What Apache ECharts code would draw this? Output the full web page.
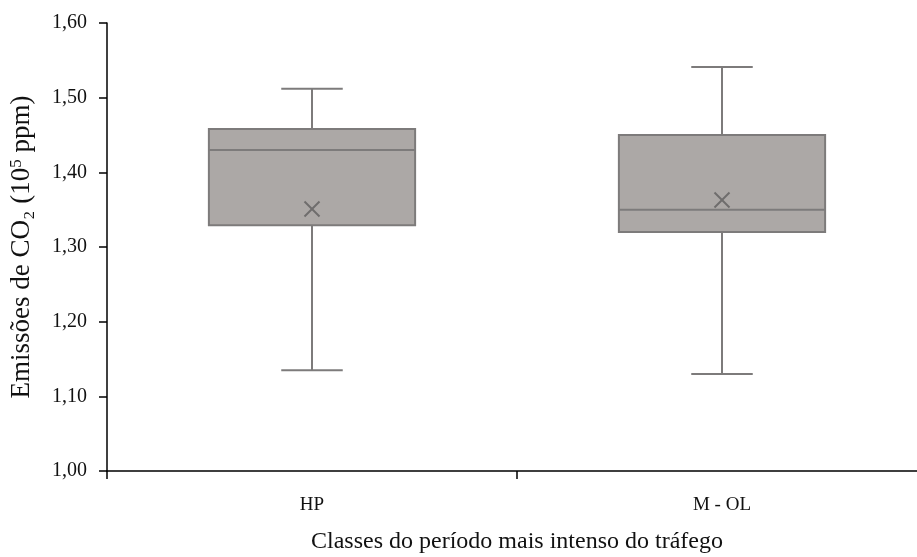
<!DOCTYPE html>
<html>
<head>
<meta charset="utf-8">
<script src="https://cdn.jsdelivr.net/npm/echarts@6/dist/echarts.min.js"></script>
<style>html,body{margin:0;padding:0;background:#fff}#c{width:917px;height:557px}</style>
</head>
<body>
<div id="c"></div>
<script>
const categories = ['HP', 'M - OL'];
const minValues = [1.135, 1.130];
const q1Values = [1.329, 1.320];
const medianValues = [1.430, 1.350];
const q3Values = [1.458, 1.450];
const maxValues = [1.512, 1.541];
const meanValues = [1.351, 1.363];
const yTicks = [1.0, 1.1, 1.2, 1.3, 1.4, 1.5, 1.6];

const FONT = '"Liberation Serif", "Times New Roman", serif';
const data = categories.map((c, i) => [i, minValues[i], q1Values[i], medianValues[i], q3Values[i], maxValues[i], meanValues[i]]);

const chart = echarts.init(document.getElementById('c'));
chart.setOption({
  animation: false,
  grid: { left: 107, top: 23, width: 820, bottom: 86, containLabel: false, outerBoundsMode: 'none' },
  xAxis: {
    type: 'category',
    data: categories,
    boundaryGap: true,
    name: 'Classes do período mais intenso do tráfego',
    nameLocation: 'middle',
    nameGap: 59,
    nameTextStyle: { fontFamily: FONT, fontSize: 24, color: '#111' },
    axisLine: { lineStyle: { color: '#000', width: 1.5 } },
    axisTick: { show: true, length: 8, lineStyle: { color: '#000', width: 1.5 } },
    axisLabel: { fontFamily: FONT, fontSize: 19, color: '#111', margin: 25 },
    splitLine: { show: false }
  },
  yAxis: {
    type: 'value',
    min: yTicks[0],
    max: yTicks[yTicks.length - 1],
    interval: 0.1,
    name: 'Emissões de CO₂ (10{sup|5} ppm)',
    nameLocation: 'middle',
    nameRotate: 90,
    nameGap: 72,
    nameTextStyle: {
      fontFamily: FONT, fontSize: 27, color: '#111',
      rich: { sup: { fontFamily: FONT, fontSize: 17, color: '#111', verticalAlign: 'top', padding: [0, 0, 10, 0] } }
    },
    axisLine: { show: true, lineStyle: { color: '#000', width: 1.5 } },
    axisTick: { show: true, length: 8, inside: false, lineStyle: { color: '#000', width: 1.5 } },
    axisLabel: {
      fontFamily: FONT, fontSize: 20, color: '#111', margin: 20,
      formatter: v => v.toFixed(2).replace('.', ',')
    },
    splitLine: { show: false }
  },
  series: [{
    type: 'custom',
    data: data,
    encode: { x: 0, y: [1, 2, 3, 4, 5, 6] },
    renderItem: function (params, api) {
      const idx = api.value(0);
      const band = api.size([1, 0])[0];
      const boxW = band * 0.503;
      const capW = band * 0.15;
      const pMin = api.coord([idx, api.value(1)]);
      const pQ1 = api.coord([idx, api.value(2)]);
      const pMed = api.coord([idx, api.value(3)]);
      const pQ3 = api.coord([idx, api.value(4)]);
      const pMax = api.coord([idx, api.value(5)]);
      const pMean = api.coord([idx, api.value(6)]);
      const cx = pMin[0];
      const lineStyle = { stroke: '#7d7b7b', lineWidth: 2 };
      const m = 7.5;
      return {
        type: 'group',
        children: [
          { type: 'line', shape: { x1: cx, y1: pMax[1], x2: cx, y2: pQ3[1] }, style: lineStyle },
          { type: 'line', shape: { x1: cx, y1: pQ1[1], x2: cx, y2: pMin[1] }, style: lineStyle },
          { type: 'line', shape: { x1: cx - capW / 2, y1: pMax[1], x2: cx + capW / 2, y2: pMax[1] }, style: lineStyle },
          { type: 'line', shape: { x1: cx - capW / 2, y1: pMin[1], x2: cx + capW / 2, y2: pMin[1] }, style: lineStyle },
          { type: 'rect', shape: { x: cx - boxW / 2, y: pQ3[1], width: boxW, height: pQ1[1] - pQ3[1] },
            style: { fill: '#aca8a6', stroke: '#7d7b7b', lineWidth: 2 } },
          { type: 'line', shape: { x1: cx - boxW / 2, y1: pMed[1], x2: cx + boxW / 2, y2: pMed[1] }, style: lineStyle },
          { type: 'line', shape: { x1: pMean[0] - m, y1: pMean[1] - m, x2: pMean[0] + m, y2: pMean[1] + m }, style: { stroke: '#6f6d6d', lineWidth: 2 } },
          { type: 'line', shape: { x1: pMean[0] - m, y1: pMean[1] + m, x2: pMean[0] + m, y2: pMean[1] - m }, style: { stroke: '#6f6d6d', lineWidth: 2 } }
        ]
      };
    }
  }]
});
</script>
</body>
</html>
